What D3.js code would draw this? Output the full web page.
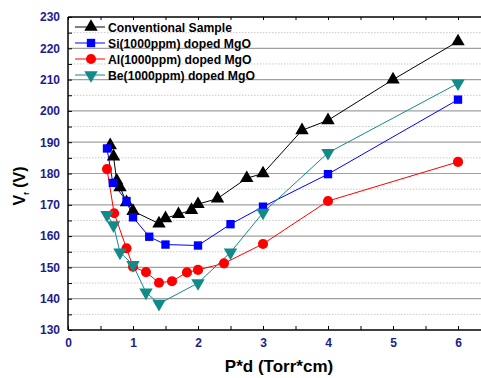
<!DOCTYPE html>
<html><head><meta charset="utf-8">
<script src="https://cdn.jsdelivr.net/npm/d3@7"></script>
<style>body{margin:0;background:#fff}svg{display:block;font-family:Arial,"Liberation Sans",sans-serif}</style>
</head><body>
<svg id="c" width="481" height="378"></svg>
<script>
const convX = [0.65,0.7,0.75,0.8,0.9,1.0,1.4,1.5,1.7,1.9,2.0,2.3,2.75,3.0,3.6,4.0,5.0,6.0];
const convY = [189,185.4,177.7,175.6,170.8,168,164,165.7,167,168.3,170.2,172,178.5,180,193.8,197,210,222.2];
const siX = [0.6,0.69,0.9,1.0,1.25,1.5,2.0,2.5,3.0,4.0,6.0];
const siY = [188,177,171.2,166,159.8,157.3,157,163.8,169.4,179.8,203.6];
const alX = [0.6,0.71,0.9,1.0,1.2,1.4,1.6,1.83,2.0,2.4,3.0,4.0,6.0];
const alY = [181.4,167.3,156.1,150.2,148.5,145.1,145.6,148.4,149.2,151.3,157.5,171.2,183.7];
const beX = [0.6,0.7,0.8,1.0,1.2,1.4,2.0,2.5,3.0,4.0,6.0];
const beY = [166.8,163.5,154.8,150.8,142,138.4,145,154.8,167.5,186.6,208.8];
const seriesNames = ["Conventional Sample","Si(1000ppm) doped MgO","Al(1000ppm) doped MgO","Be(1000ppm) doped MgO"];
const xTicks = [0,1,2,3,4,5,6];
const yTicks = [130,140,150,160,170,180,190,200,210,220,230];

const series = [
  {name:seriesNames[0], x:convX, y:convY, color:"#000000", sym:"up"},
  {name:seriesNames[1], x:siX, y:siY, color:"#0000ff", sym:"square"},
  {name:seriesNames[2], x:alX, y:alY, color:"#ff0000", sym:"circle"},
  {name:seriesNames[3], x:beX, y:beY, color:"#138a8a", sym:"down"}
];

const svg = d3.select("#c");
const L=68, T=17, B=330;
const x = d3.scaleLinear().domain([0,6.4]).range([L, L+65*6.4]);
const y = d3.scaleLinear().domain([130,230]).range([B,T]);

// grid
const minor = d3.range(135,230,10);
svg.append("g").selectAll("line").data(minor).join("line")
  .attr("x1",L).attr("x2",481).attr("y1",d=>y(d)).attr("y2",d=>y(d))
  .attr("stroke","#c8c8c8").attr("stroke-width",1).attr("stroke-dasharray","1.5,1.5");
svg.append("g").selectAll("line").data(yTicks.slice(1,-1)).join("line")
  .attr("x1",L).attr("x2",481).attr("y1",d=>y(d)).attr("y2",d=>y(d))
  .attr("stroke","#a0a0a0").attr("stroke-width",1.2);

// axes
const navy="#1c1c8c";
const xAxis = d3.axisBottom(x).tickValues(d3.range(0,6.5,0.5)).tickSize(-4).tickFormat(d=>xTicks.includes(d)?d:"");
const gx = svg.append("g").attr("transform",`translate(0,${B})`).call(xAxis);
gx.select(".domain").remove();
gx.selectAll(".tick line").attr("stroke","#000");
gx.selectAll(".tick text").attr("dy","0").attr("y",17).attr("fill",navy).attr("font-size",12).attr("font-weight","bold");
const xTop = d3.axisTop(x).tickValues(d3.range(0,6.5,0.5)).tickSize(-3).tickFormat("");
const gt = svg.append("g").attr("transform",`translate(0,${T})`).call(xTop);
gt.select(".domain").remove();
gt.selectAll(".tick line").attr("stroke","#000");

const yAxis = d3.axisLeft(y).tickValues(d3.range(130,231,5)).tickSize(-4).tickFormat(d=>yTicks.includes(d)?d:"");
const gy = svg.append("g").attr("transform",`translate(${L},0)`).call(yAxis);
gy.select(".domain").remove();
gy.selectAll(".tick line").attr("stroke","#000");
gy.selectAll(".tick text").attr("x",-8).attr("fill",navy).attr("font-size",12).attr("font-weight","bold");

svg.append("line").attr("x1",L).attr("x2",L).attr("y1",T).attr("y2",B).attr("stroke","#000").attr("stroke-width",1.5);
svg.append("line").attr("x1",L).attr("x2",481).attr("y1",B).attr("y2",B).attr("stroke","#000").attr("stroke-width",1.5);
svg.append("line").attr("x1",L).attr("x2",481).attr("y1",T).attr("y2",T).attr("stroke","#000").attr("stroke-width",1.5);

function symPath(s){
  if(s==="square") return d3.symbol(d3.symbolSquare,70)();
  if(s==="circle") return d3.symbol(d3.symbolCircle,80)();
  return d3.symbol(d3.symbolTriangle,78)();
}
function addMarker(g, s, cx, cy, color){
  g.append("path").attr("d",symPath(s))
   .attr("transform",`translate(${cx},${cy})${s==="down"?" rotate(180)":""}`)
   .attr("fill",color);
}

const line = d3.line().x(d=>x(d[0])).y(d=>y(d[1]));
series.forEach(s=>{
  const pts = s.x.map((v,i)=>[v,s.y[i]]);
  svg.append("path").datum(pts).attr("d",line).attr("fill","none").attr("stroke",s.color).attr("stroke-width",1);
});
series.forEach(s=>{
  const g = svg.append("g");
  s.x.forEach((v,i)=>addMarker(g,s.sym,x(v),y(s.y[i]),s.color));
});

// legend
const lg = svg.append("g");
series.forEach((s,i)=>{
  const yy = 27 + i*16;
  lg.append("line").attr("x1",75).attr("x2",105).attr("y1",yy).attr("y2",yy).attr("stroke",s.color).attr("stroke-width",1);
  addMarker(lg,s.sym,91,yy,s.color);
  lg.append("text").attr("x",108).attr("y",yy+4.5).attr("font-size",12.2).attr("font-weight","bold").attr("fill","#000").text(s.name);
});

// axis titles
svg.append("text").attr("x",279).attr("y",372).attr("text-anchor","middle").attr("font-size",17).attr("font-weight","bold").text("P*d (Torr*cm)");
const yl = svg.append("text").attr("transform","translate(25,186) rotate(-90)").attr("text-anchor","middle").attr("font-size",16).attr("font-weight","bold");
yl.append("tspan").text("V");
yl.append("tspan").attr("font-size",8).attr("dy",4).text("f");
yl.append("tspan").attr("dy",-4).text(" (V)");
</script>
</body></html>
